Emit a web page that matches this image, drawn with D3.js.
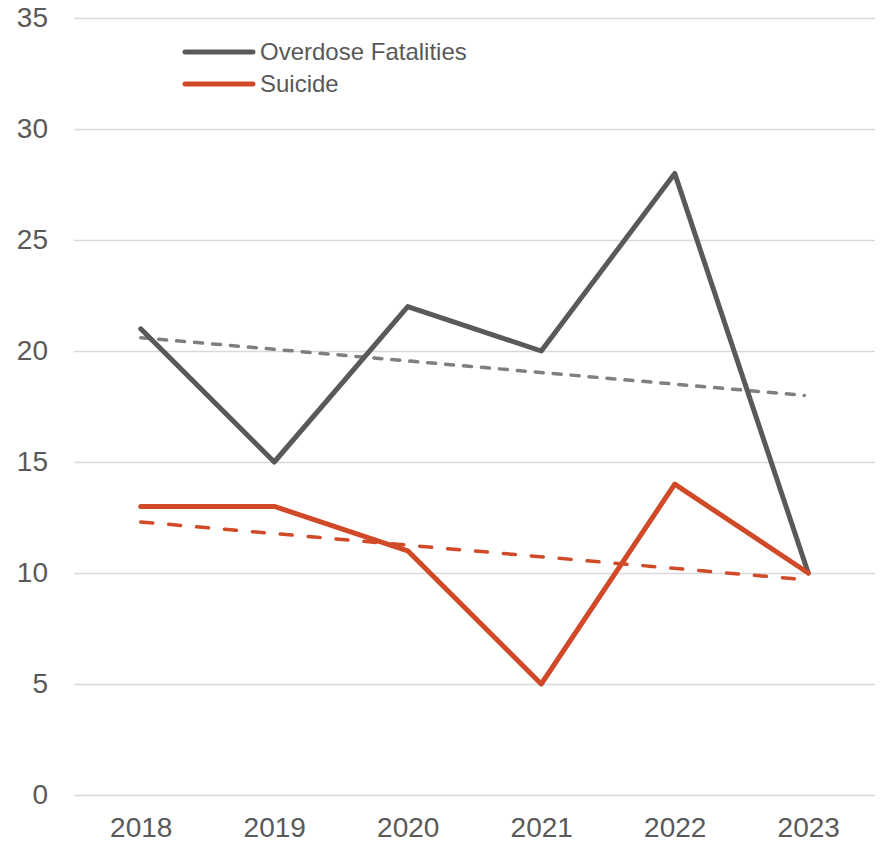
<!DOCTYPE html>
<html>
<head>
<meta charset="utf-8">
<script src="https://cdn.jsdelivr.net/npm/d3@7"></script>
<style>
  body { margin: 0; background: #fff; }
  text { font-family: "Liberation Sans", Arial, sans-serif; fill: #595959; }
</style>
</head>
<body>
<script>
// Data
var years = ["2018", "2019", "2020", "2021", "2022", "2023"];
var overdose = [21, 15, 22, 20, 28, 10];
var suicide = [13, 13, 11, 5, 14, 10];
// linear trend endpoints (first year, last year)
var overdoseTrend = [20.6, 18.0];
var suicideTrend = [12.3, 9.7];
var yTicks = [0, 5, 10, 15, 20, 25, 30, 35];

var svgWidth = 883;
var svgHeight = 843;

var margin = { top: 18, right: 8, bottom: 48, left: 74 };
var width = svgWidth - margin.left - margin.right;
var height = svgHeight - margin.top - margin.bottom;

var svg = d3.select("body")
  .append("svg")
  .attr("width", svgWidth)
  .attr("height", svgHeight);

var chartGroup = svg.append("g")
  .attr("transform", `translate(${margin.left}, ${margin.top})`);

var xScale = d3.scalePoint()
  .domain(years)
  .range([0, width])
  .padding(0.5);

var yScale = d3.scaleLinear()
  .domain([0, 35])
  .range([height, 0]);

// gridlines + y labels
var yAxis = chartGroup.append("g")
  .call(d3.axisLeft(yScale).tickValues(yTicks).tickSize(-width).tickPadding(26));
yAxis.select(".domain").remove();
yAxis.selectAll(".tick line").attr("stroke", "#d9d9d9").attr("stroke-width", 1.5);
yAxis.selectAll(".tick text").style("font-size", "28px").attr("fill", "#595959");

// x labels
var xAxis = chartGroup.append("g")
  .attr("transform", `translate(0, ${height})`)
  .call(d3.axisBottom(xScale).tickSize(0).tickPadding(22));
xAxis.select(".domain").remove();
xAxis.selectAll(".tick text").style("font-size", "28px").attr("fill", "#595959");

var line = d3.line()
  .x(function (d, i) { return xScale(years[i]); })
  .y(function (d) { return yScale(d); });

var trendLine = d3.line()
  .x(function (d, i) { return i == 0 ? xScale(years[0]) : xScale(years[years.length - 1]) - 4; })
  .y(function (d) { return yScale(d); });

// trendlines
chartGroup.append("path")
  .attr("d", trendLine(overdoseTrend))
  .attr("fill", "none")
  .attr("stroke", "#7f7f7f")
  .attr("stroke-width", 3.5)
  .attr("stroke-linecap", "round")
  .attr("stroke-dasharray", "8,10");

chartGroup.append("path")
  .attr("d", trendLine(suicideTrend))
  .attr("fill", "none")
  .attr("stroke", "#d04a27")
  .attr("stroke-width", 3.5)
  .attr("stroke-linecap", "round")
  .attr("stroke-dasharray", "12,16");

// series
chartGroup.append("path")
  .attr("d", line(overdose))
  .attr("fill", "none")
  .attr("stroke", "#595959")
  .attr("stroke-width", 5)
  .attr("stroke-linecap", "round")
  .attr("stroke-linejoin", "round");

chartGroup.append("path")
  .attr("d", line(suicide))
  .attr("fill", "none")
  .attr("stroke", "#d04a27")
  .attr("stroke-width", 5)
  .attr("stroke-linecap", "round")
  .attr("stroke-linejoin", "round");

// legend
var legend = svg.append("g")
  .attr("transform", "translate(185, 52)");

var legendItems = [
  { name: "Overdose Fatalities", color: "#595959" },
  { name: "Suicide", color: "#d04a27" }
];

legendItems.forEach(function (item, i) {
  var g = legend.append("g").attr("transform", `translate(0, ${i * 32})`);
  g.append("line")
    .attr("x1", 0).attr("x2", 68)
    .attr("stroke", item.color)
    .attr("stroke-width", 5)
    .attr("stroke-linecap", "round");
  g.append("text")
    .attr("x", 75)
    .attr("dy", "0.35em")
    .style("font-size", "24px")
    .text(item.name);
});
</script>
</body>
</html>
